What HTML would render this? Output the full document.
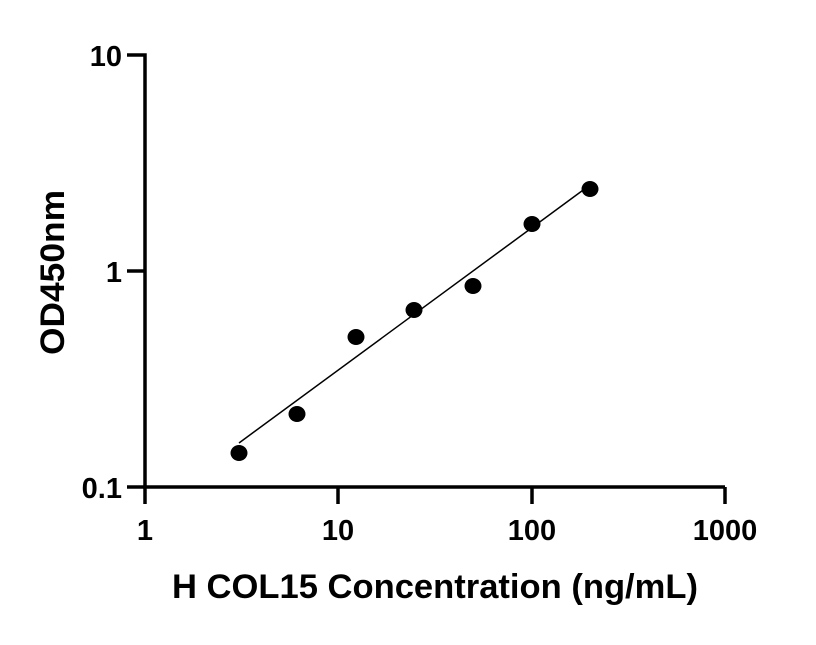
<!DOCTYPE html>
<html><head><style>body{margin:0;background:#fff}</style></head><body>
<svg width="816" height="640" xmlns="http://www.w3.org/2000/svg" font-family="Liberation Sans, sans-serif" font-weight="bold">
<g stroke="#000" stroke-width="3.5" fill="none">
<path d="M127,55 H145 V487 H725"/>
<path d="M127,271 H145 M127,487 H145"/>
<path d="M145,487 V504 M338,487 V504 M532,487 V504 M725,487 V504"/>
</g>
<line x1="239" y1="443" x2="590" y2="185" stroke="#000" stroke-width="1.5"/>
<g fill="#000">
<ellipse cx="239" cy="453" rx="8.5" ry="8"/>
<ellipse cx="297" cy="414" rx="8.5" ry="8"/>
<ellipse cx="356" cy="337" rx="8.5" ry="8"/>
<ellipse cx="414" cy="310" rx="8.5" ry="8"/>
<ellipse cx="473" cy="286" rx="8.5" ry="8"/>
<ellipse cx="532" cy="224" rx="8.5" ry="8"/>
<ellipse cx="590" cy="189" rx="8.5" ry="8"/>
</g>
<g font-size="29" text-anchor="end">
<text x="122" y="66">10</text>
<text x="122" y="282">1</text>
<text x="122" y="498">0.1</text>
</g>
<g font-size="29" text-anchor="middle">
<text x="145" y="540">1</text>
<text x="338" y="540">10</text>
<text x="532" y="540">100</text>
<text x="725" y="540">1000</text>
</g>
<text x="172" y="598" font-size="34" textLength="526" lengthAdjust="spacingAndGlyphs">H COL15 Concentration (ng/mL)</text>
<text transform="translate(64,355) rotate(-90)" font-size="34" textLength="165" lengthAdjust="spacingAndGlyphs">OD450nm</text>
</svg>
</body></html>
